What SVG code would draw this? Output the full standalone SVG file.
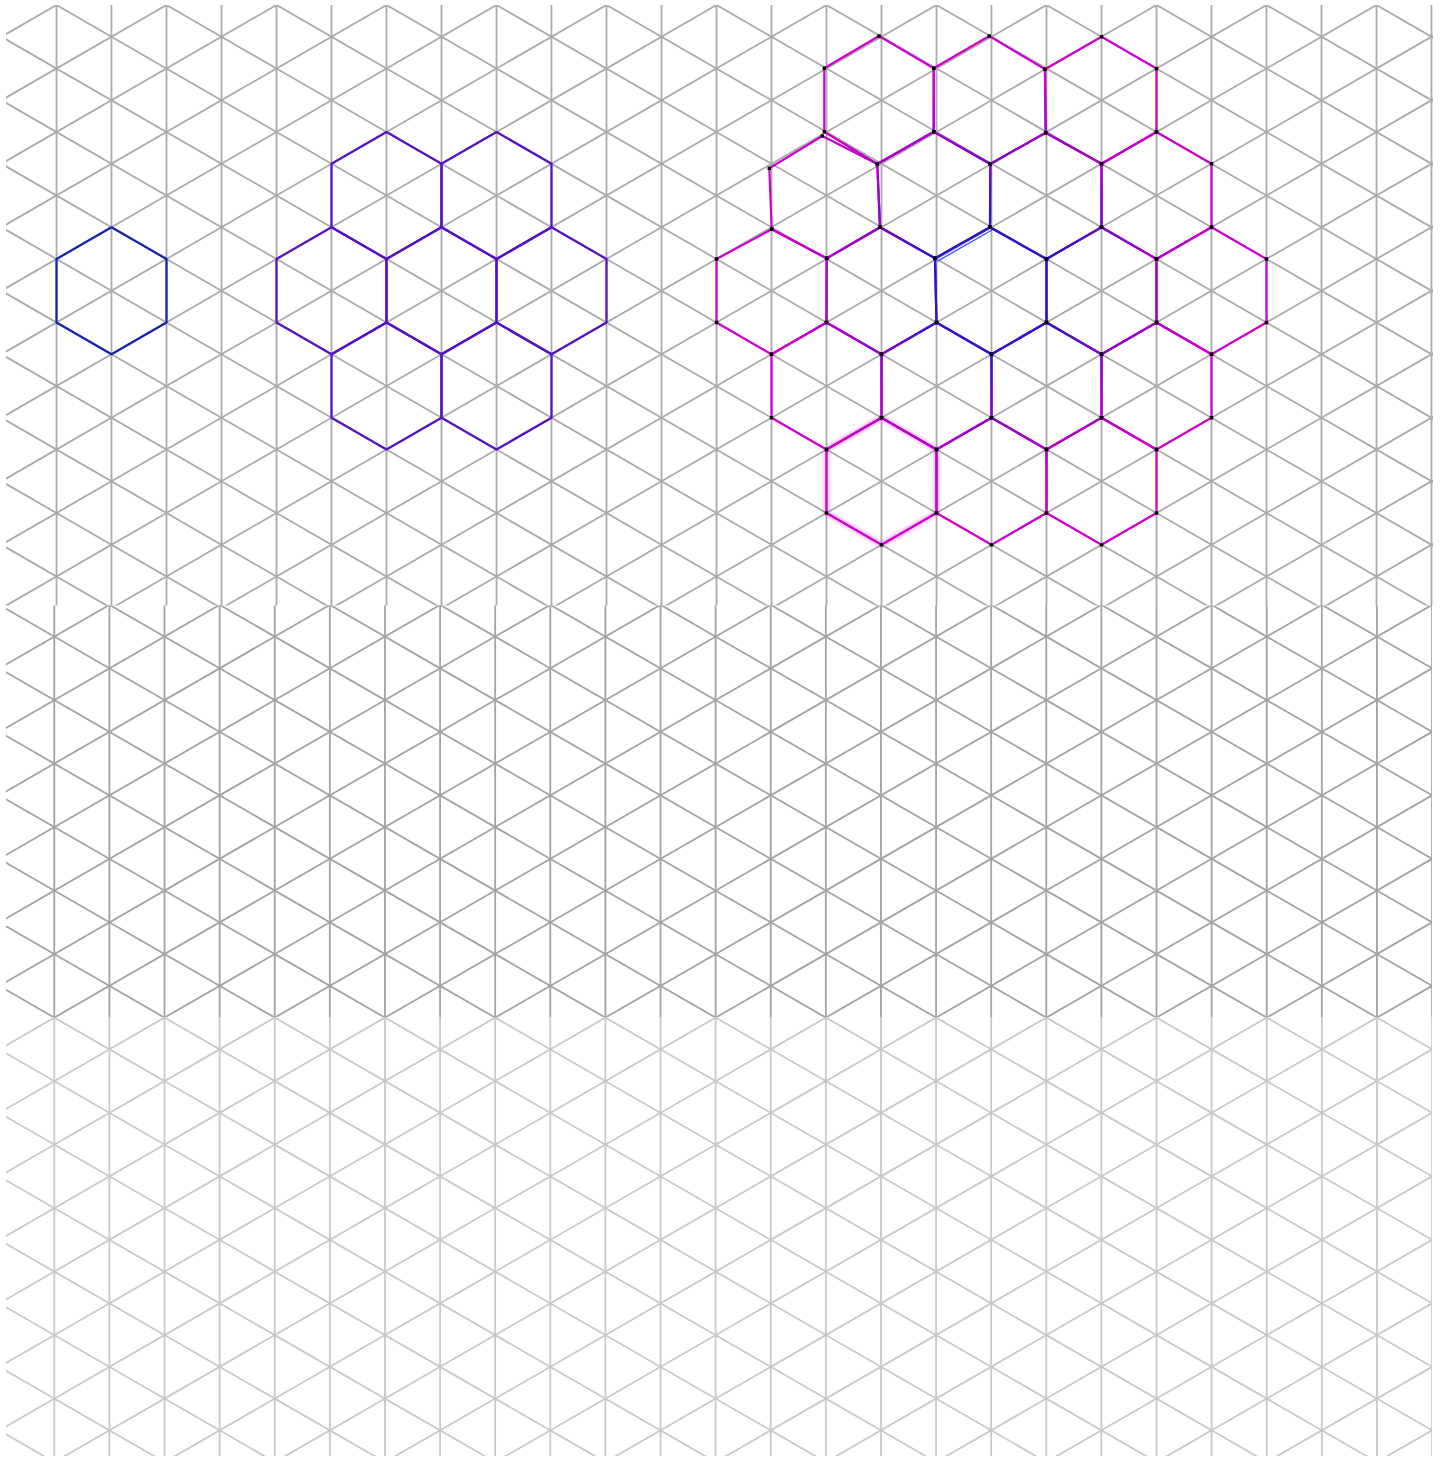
<svg xmlns="http://www.w3.org/2000/svg" xmlns:xlink="http://www.w3.org/1999/xlink" width="1441" height="1460" viewBox="0 0 1441 1460">
<style>
.grid{fill:none;stroke-width:1.8}
.hex{fill:none;stroke-width:2.2;stroke-linejoin:round}
.single{stroke:#1224b0}
.purple{stroke:#5810c6}
.mag{stroke:url(#rg);marker-start:url(#dot);marker-mid:url(#dot)}
</style>
<defs>
<marker id="dot" markerUnits="userSpaceOnUse" markerWidth="4" markerHeight="4" refX="2" refY="2" overflow="visible"><rect x="0.3" y="0.3" width="3.4" height="3.4" fill="#000"/></marker>
<radialGradient id="rg" gradientUnits="userSpaceOnUse" cx="995" cy="282" r="280">
<stop offset="0" stop-color="#3410cc"/>
<stop offset="0.24" stop-color="#3810cc"/>
<stop offset="0.34" stop-color="#5010c8"/>
<stop offset="0.46" stop-color="#8a04c8"/>
<stop offset="0.6" stop-color="#b400cc"/>
<stop offset="0.75" stop-color="#cc00cc"/>
<stop offset="1" stop-color="#d200d2"/>
</radialGradient>
<filter id="blur" x="-20%" y="-20%" width="140%" height="140%"><feGaussianBlur stdDeviation="1.6"/></filter>
<g id="gridlines">
<path d="M1.5,0V1460M56.5,0V1460M111.5,0V1460M166.5,0V1460M221.5,0V1460M276.5,0V1460M331.5,0V1460M386.5,0V1460M441.5,0V1460M496.5,0V1460M551.5,0V1460M606.5,0V1460M661.5,0V1460M716.5,0V1460M771.5,0V1460M826.5,0V1460M881.5,0V1460M936.5,0V1460M991.5,0V1460M1046.5,0V1460M1101.5,0V1460M1156.5,0V1460M1211.5,0V1460M1266.5,0V1460M1321.5,0V1460M1376.5,0V1460M1431.5,0V1460"/>
<path d="M0,-853.116l1441,831.85M0,-789.616l1441,831.85M0,-726.116l1441,831.85M0,-662.616l1441,831.85M0,-599.116l1441,831.85M0,-535.616l1441,831.85M0,-472.116l1441,831.85M0,-408.616l1441,831.85M0,-345.116l1441,831.85M0,-281.616l1441,831.85M0,-218.116l1441,831.85M0,-154.616l1441,831.85M0,-91.116l1441,831.85M0,-27.616l1441,831.85M0,35.884l1441,831.85M0,99.384l1441,831.85M0,162.884l1441,831.85M0,226.384l1441,831.85M0,289.884l1441,831.85M0,353.384l1441,831.85M0,416.884l1441,831.85M0,480.384l1441,831.85M0,543.884l1441,831.85M0,607.384l1441,831.85M0,670.884l1441,831.85M0,734.384l1441,831.85M0,797.884l1441,831.85M0,861.384l1441,831.85M0,924.884l1441,831.85M0,988.384l1441,831.85M0,1051.884l1441,831.85M0,1115.384l1441,831.85M0,1178.884l1441,831.85M0,1242.384l1441,831.85M0,1305.884l1441,831.85M0,1369.384l1441,831.85M0,1432.884l1441,831.85"/>
<path d="M0,-25.884l1441,-831.85M0,37.616l1441,-831.85M0,101.116l1441,-831.85M0,164.616l1441,-831.85M0,228.116l1441,-831.85M0,291.616l1441,-831.85M0,355.116l1441,-831.85M0,418.616l1441,-831.85M0,482.116l1441,-831.85M0,545.616l1441,-831.85M0,609.116l1441,-831.85M0,672.616l1441,-831.85M0,736.116l1441,-831.85M0,799.616l1441,-831.85M0,863.116l1441,-831.85M0,926.616l1441,-831.85M0,990.116l1441,-831.85M0,1053.616l1441,-831.85M0,1117.116l1441,-831.85M0,1180.616l1441,-831.85M0,1244.116l1441,-831.85M0,1307.616l1441,-831.85M0,1371.116l1441,-831.85M0,1434.616l1441,-831.85M0,1498.116l1441,-831.85M0,1561.616l1441,-831.85M0,1625.116l1441,-831.85M0,1688.616l1441,-831.85M0,1752.116l1441,-831.85M0,1815.616l1441,-831.85M0,1879.116l1441,-831.85M0,1942.616l1441,-831.85M0,2006.116l1441,-831.85M0,2069.616l1441,-831.85M0,2133.116l1441,-831.85M0,2196.616l1441,-831.85M0,2260.116l1441,-831.85M0,2323.616l1441,-831.85"/>
</g>
<clipPath id="c1"><rect x="6" y="5" width="1427" height="600.5"/></clipPath>
<clipPath id="c2"><rect x="6" y="605.5" width="1426" height="411.5"/></clipPath>
<clipPath id="c3"><rect x="6" y="1017" width="1426" height="439"/></clipPath>
</defs>
<rect width="1441" height="1460" fill="#fff"/>
<g id="grid-top" class="grid" clip-path="url(#c1)" stroke="#ababab"><use xlink:href="#gridlines"/></g>
<g id="grid-middle" class="grid" clip-path="url(#c2)" stroke="#a3a3a3"><use xlink:href="#gridlines" transform="translate(-2.313,-3.4) scale(1.002,1)"/></g>
<g id="grid-bottom" class="grid" clip-path="url(#c3)" stroke="#c9c9c9"><use xlink:href="#gridlines" transform="translate(-2.313,-3.4) scale(1.002,1)"/></g>

<g id="hex-single" class="hex single"><polygon points="111.5,227.25 166.5,259 166.5,322.5 111.5,354.25 56.5,322.5 56.5,259"/></g>

<g id="cluster-7" class="hex purple">
<g id="p-t0"><polygon points="386.5,132 441.5,163.75 441.5,227.25 386.5,259 331.5,227.25 331.5,163.75"/></g>
<g id="p-t1"><polygon points="496.5,132 551.5,163.75 551.5,227.25 496.5,259 441.5,227.25 441.5,163.75"/></g>
<g id="p-m0"><polygon points="331.5,227.25 386.5,259 386.5,322.5 331.5,354.25 276.5,322.5 276.5,259"/></g>
<g id="p-m1"><polygon points="441.5,227.25 496.5,259 496.5,322.5 441.5,354.25 386.5,322.5 386.5,259"/></g>
<g id="p-m2"><polygon points="551.5,227.25 606.5,259 606.5,322.5 551.5,354.25 496.5,322.5 496.5,259"/></g>
<g id="p-b0"><polygon points="386.5,322.5 441.5,354.25 441.5,417.75 386.5,449.5 331.5,417.75 331.5,354.25"/></g>
<g id="p-b1"><polygon points="496.5,322.5 551.5,354.25 551.5,417.75 496.5,449.5 441.5,417.75 441.5,354.25"/></g>
</g>

<g id="cluster-19" class="hex">
<polygon points="881.5,417.75 936.5,449.5 936.5,513 881.5,544.75 826.5,513 826.5,449.5" fill="none" stroke="#e040e0" stroke-width="6" opacity="0.35" filter="url(#blur)"/>
<line x1="936.5" y1="259" x2="936.5" y2="322.5" stroke="#4a60ff" stroke-width="5" opacity="0.4" filter="url(#blur)"/>
<line x1="937" y1="261.5" x2="992" y2="230" stroke="#2a50ff" stroke-width="1.3"/>
<g id="m-a0" class="mag"><polygon points="879,36 933.7,68.3 933.7,131.7 877.3,164 824.3,131.7 824.3,68.3"/></g>
<g id="m-a1" class="mag"><polygon points="989.3,36 1045,69.3 1045.7,132.7 990.3,164 933.7,131.7 933.7,68.3"/></g>
<g id="m-a2" class="mag"><polygon points="1101.5,36.75 1156.5,68.5 1156.5,132 1101.5,163.75 1045.7,132.7 1045,69.3"/></g>
<g id="m-b0" class="mag"><polygon points="822.3,136 877.3,164 880,227.3 826.7,258.3 771.7,229.3 769.3,168.3"/></g>
<g id="m-b1" class="mag"><polygon points="933.7,131.7 990.3,164 990,227.3 935,258.3 880,227.3 877.3,164"/></g>
<g id="m-b2" class="mag"><polygon points="1045.7,132.7 1101.5,163.75 1101.5,227.25 1046.5,259 990,227.3 990.3,164"/></g>
<g id="m-b3" class="mag"><polygon points="1156.5,132 1211.5,163.75 1211.5,227.25 1156.5,259 1101.5,227.25 1101.5,163.75"/></g>
<g id="m-c0" class="mag"><polygon points="771.7,229.3 826.7,258.3 826.5,322.5 771.5,354.25 716.5,322.5 716.5,259"/></g>
<g id="m-c1" class="mag"><polygon points="880,227.3 935,258.3 936.5,322.5 881.5,354.25 826.5,322.5 826.7,258.3"/></g>
<g id="m-c2" class="mag"><polygon points="990,227.3 1046.5,259 1046.5,322.5 991.5,354.25 936.5,322.5 935,258.3"/></g>
<g id="m-c3" class="mag"><polygon points="1101.5,227.25 1156.5,259 1156.5,322.5 1101.5,354.25 1046.5,322.5 1046.5,259"/></g>
<g id="m-c4" class="mag"><polygon points="1211.5,227.25 1266.5,259 1266.5,322.5 1211.5,354.25 1156.5,322.5 1156.5,259"/></g>
<g id="m-d0" class="mag"><polygon points="826.5,322.5 881.5,354.25 881.5,417.75 826.5,449.5 771.5,417.75 771.5,354.25"/></g>
<g id="m-d1" class="mag"><polygon points="936.5,322.5 991.5,354.25 991.5,417.75 936.5,449.5 881.5,417.75 881.5,354.25"/></g>
<g id="m-d2" class="mag"><polygon points="1046.5,322.5 1101.5,354.25 1101.5,417.75 1046.5,449.5 991.5,417.75 991.5,354.25"/></g>
<g id="m-d3" class="mag"><polygon points="1156.5,322.5 1211.5,354.25 1211.5,417.75 1156.5,449.5 1101.5,417.75 1101.5,354.25"/></g>
<g id="m-e0" class="mag"><polygon points="881.5,417.75 936.5,449.5 936.5,513 881.5,544.75 826.5,513 826.5,449.5"/></g>
<g id="m-e1" class="mag"><polygon points="991.5,417.75 1046.5,449.5 1046.5,513 991.5,544.75 936.5,513 936.5,449.5"/></g>
<g id="m-e2" class="mag"><polygon points="1101.5,417.75 1156.5,449.5 1156.5,513 1101.5,544.75 1046.5,513 1046.5,449.5"/></g>
</g>
</svg>
